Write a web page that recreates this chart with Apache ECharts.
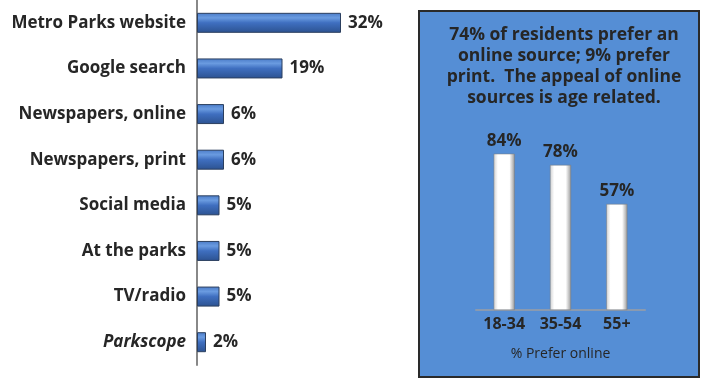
<!DOCTYPE html>
<html>
<head>
<meta charset="utf-8">
<script src="https://cdn.jsdelivr.net/npm/echarts@6/dist/echarts.min.js"></script>
<style>
  html, body { margin: 0; padding: 0; background: #fff; }
  #main { width: 701px; height: 379px; }
</style>
</head>
<body>
<div id="main"></div>
<script>
// source of park information
var sources = ['Metro Parks website', 'Google search', 'Newspapers, online', 'Newspapers, print',
               'Social media', 'At the parks', 'TV/radio', 'Parkscope'];
var sourcePct = [32, 19, 6, 6, 5, 5, 5, 2];

// age groups, % prefer online
var ages = ['18-34', '35-54', '55+'];
var onlinePct = [84, 78, 57];

var noteText = '74% of residents prefer an\nonline source; 9% prefer\nprint.  The appeal of online\nsources is age related.';

var FONT = 'Open Sans';
var chart = echarts.init(document.getElementById('main'));

var blueBar = {
    type: 'linear', x: 0, y: 0, x2: 0, y2: 1,
    colorStops: [
        { offset: 0, color: '#4a7bc8' },
        { offset: 0.25, color: '#6a9be0' },
        { offset: 0.5, color: '#3f6fc0' },
        { offset: 1, color: '#2c5290' }
    ]
};
var whiteBar = {
    type: 'linear', x: 0, y: 0, x2: 1, y2: 0,
    colorStops: [
        { offset: 0, color: '#d0d0d0' },
        { offset: 0.2, color: '#ffffff' },
        { offset: 0.75, color: '#ffffff' },
        { offset: 1, color: '#9a9a9a' }
    ]
};

chart.setOption({
    backgroundColor: '#fff',
    animation: false,
    graphic: [{
        type: 'rect',
        shape: { x: 419, y: 11, width: 280, height: 366 },
        style: { fill: '#558ed5', stroke: '#2a2a2a', lineWidth: 2 },
        z: -10
    }],
    title: {
        text: noteText,
        left: 559,
        top: 20,
        textAlign: 'center',
        textStyle: {
            fontFamily: FONT, fontSize: 17.5, fontWeight: 'bold',
            color: '#262626', lineHeight: 21, align: 'center'
        }
    },
    grid: [
        { left: 197, top: 0, width: 180, height: 365 },
        { left: 476, top: 124, width: 169, height: 186 }
    ],
    xAxis: [{
        gridIndex: 0, type: 'value', min: 0, max: 40,
        show: false
    }, {
        gridIndex: 1, type: 'category', data: ages,
        axisLine: { lineStyle: { color: '#8a9ab0', width: 2 } },
        axisTick: { show: false },
        axisLabel: {
            fontFamily: FONT, fontSize: 16, fontWeight: 'bold',
            color: '#262626', margin: 6
        },
        name: '% Prefer online',
        nameLocation: 'middle',
        nameGap: 37,
        nameTextStyle: { fontFamily: FONT, fontSize: 14, color: '#262626' }
    }],
    yAxis: [{
        gridIndex: 0, type: 'category', data: sources, inverse: true,
        axisLine: { lineStyle: { color: '#888', width: 2 } },
        axisTick: { show: false },
        axisLabel: {
            fontFamily: FONT, fontSize: 17, fontWeight: 'bold',
            color: '#262626', margin: 11,
            formatter: function (v) {
                return v === 'Parkscope' ? '{it|' + v + '}' : v;
            },
            rich: {
                it: {
                    fontFamily: FONT, fontSize: 17, fontWeight: 'bold',
                    fontStyle: 'italic', color: '#262626'
                }
            }
        }
    }, {
        gridIndex: 1, type: 'value', min: 0, max: 100, show: false
    }],
    series: [{
        type: 'bar',
        xAxisIndex: 0, yAxisIndex: 0,
        data: sourcePct,
        barWidth: 20,
        itemStyle: { color: blueBar, borderColor: '#2b3f5f', borderWidth: 1 },
        label: {
            show: true, position: 'right', distance: 7,
            formatter: '{c}%',
            fontFamily: FONT, fontSize: 17, fontWeight: 'bold', color: '#262626'
        }
    }, {
        type: 'bar',
        xAxisIndex: 1, yAxisIndex: 1,
        data: onlinePct,
        barWidth: 21,
        itemStyle: { color: whiteBar, borderColor: '#7a7a7a', borderWidth: 0.5 },
        label: {
            show: true, position: 'top', distance: 4,
            formatter: '{c}%',
            fontFamily: FONT, fontSize: 17, fontWeight: 'bold', color: '#262626'
        }
    }]
});
</script>
</body>
</html>
